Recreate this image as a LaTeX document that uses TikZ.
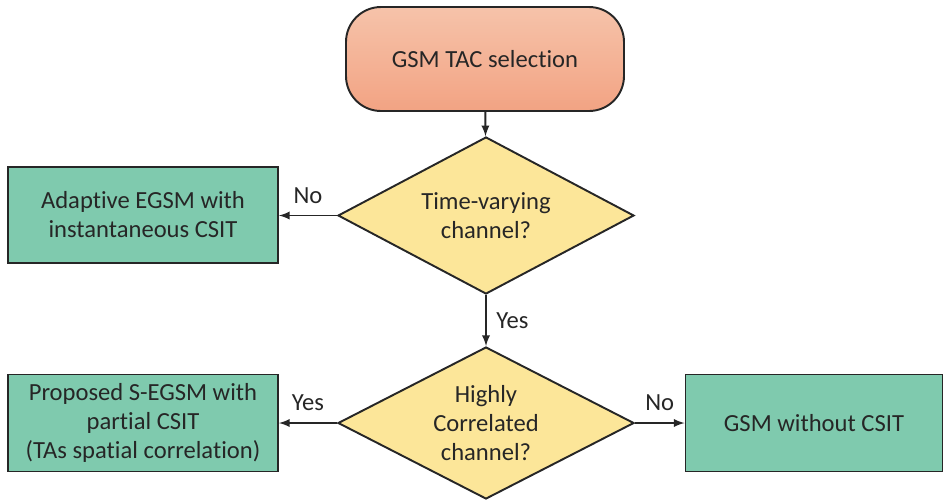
\documentclass[tikz,border=0pt]{standalone}
\usepackage{fontspec}
\setmainfont{Carlito}[Ligatures={NoCommon}]
\usepackage{tikz}
\usetikzlibrary{shapes.geometric}

\definecolor{edgegray}{HTML}{262626}
\definecolor{boxgreen}{HTML}{7FCAAE}
\definecolor{decyellow}{HTML}{FCE699}
\definecolor{starttop}{HTML}{F6C3AA}
\definecolor{startbot}{HTML}{F2A383}

\tikzset{
  startbox/.style={draw=edgegray, line width=1.1pt, rounded corners=0.7cm,
    top color=starttop, bottom color=startbot, minimum width=5.56cm,
    minimum height=2.08cm, text=edgegray, font=\fontsize{14}{16.5}\selectfont},
  outbox/.style={draw=edgegray, line width=1.1pt, fill=boxgreen, align=center,
    minimum height=1.94cm, text=edgegray, font=\fontsize{14}{16.5}\selectfont},
  decbox/.style={diamond, draw=edgegray, line width=1.1pt, fill=decyellow,
    align=center, inner sep=0pt, shape aspect=1.9, minimum width=5.92cm,
    text=edgegray, font=\fontsize{14}{16.5}\selectfont},
  flow/.style={edgegray, line width=1.1pt, -latex},
  answer/.style={text=edgegray, font=\fontsize{14}{16.5}\selectfont}
}

\begin{document}
\begin{tikzpicture}
    \useasboundingbox (0,0) rectangle (18.9,-10.06);% page size
    % blocks
    \node[startbox] (start) at (9.70,-1.18) {GSM TAC selection};
    \node[decbox, minimum height=3.14cm] (timevar) at (9.72,-4.31)
        {Time-varying\\channel?};
    \node[outbox, minimum width=5.40cm, minimum height=1.92cm] (adaptive)
        at (2.86,-4.30) {Adaptive EGSM with\\instantaneous CSIT};
    \node[decbox, minimum height=3.04cm] (corr) at (9.72,-8.46)
        {Highly\\Correlated\\channel?};
    \node[outbox, minimum width=5.40cm] (proposed) at (2.86,-8.46)
        {Proposed S-EGSM with\\partial CSIT\\(TAs spatial correlation)};
    \node[outbox, minimum width=5.14cm] (nocsit) at (16.28,-8.46)
        {GSM without CSIT};
    % connectors
    \draw[flow] (start) -- (timevar);
    \draw[flow] (timevar.west) -- (adaptive.east |- timevar.west)
        node[answer, midway, above, yshift=3pt] {No};
    \draw[flow] (timevar.south) -- (corr.north)
        node[answer, midway, right, xshift=2pt] {Yes};
    \draw[flow] (corr.west) -- (proposed.east)
        node[answer, midway, above, yshift=3pt] {Yes};
    \draw[flow] (corr.east) -- (nocsit.west)
        node[answer, midway, above, yshift=3pt] {No};
\end{tikzpicture}
\end{document}
